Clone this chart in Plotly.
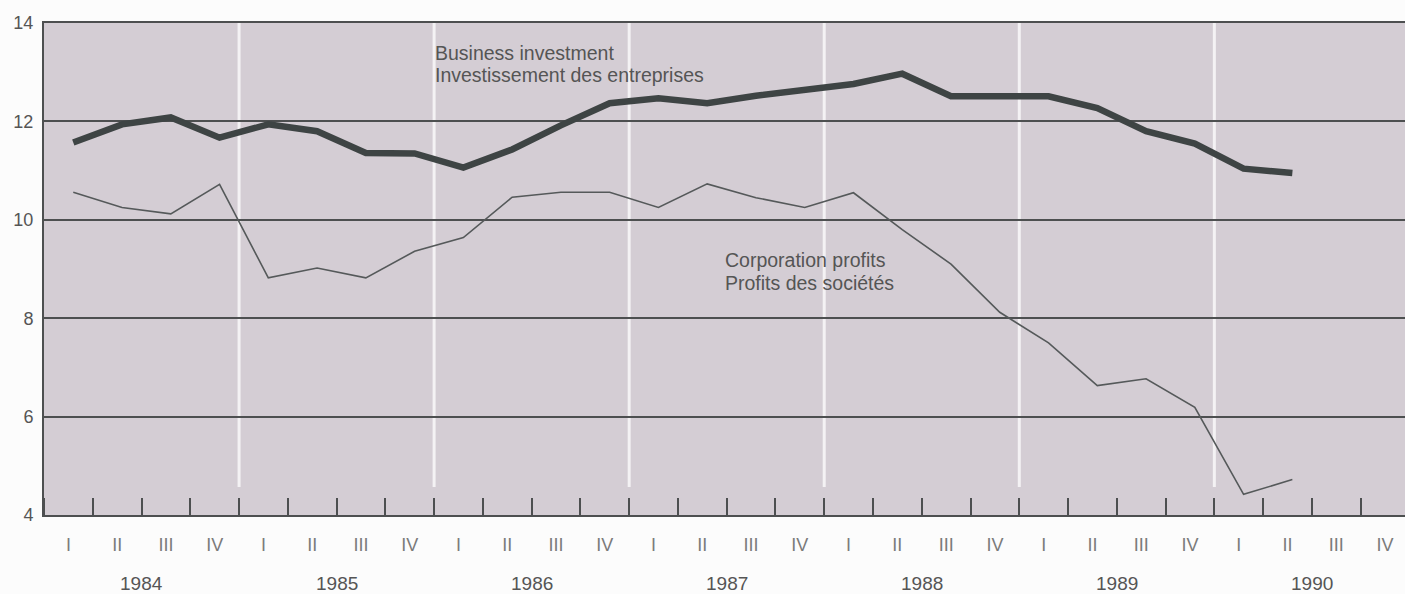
import plotly.graph_objects as go
import numpy as np

# ---- data ----
years = ["1984", "1985", "1986", "1987", "1988", "1989", "1990"]
quarters = ["I", "II", "III", "IV"]
quarter_labels = quarters * len(years)          # 28 axis slots, 1984 I .. 1990 IV

business_investment = [11.57, 11.94, 12.08, 11.67, 11.94, 11.80, 11.36, 11.35,
                       11.06, 11.43, 11.92, 12.37, 12.47, 12.37, 12.52, 12.63,
                       12.76, 12.97, 12.51, 12.51, 12.51, 12.27, 11.80, 11.55,
                       11.04, 10.95]
corporation_profits = [10.56, 10.25, 10.12, 10.72, 8.82, 9.02, 8.82, 9.36,
                       9.64, 10.46, 10.56, 10.56, 10.25, 10.73, 10.45, 10.25,
                       10.55, 9.80, 9.10, 8.12, 7.50, 6.63, 6.77, 6.19,
                       4.42, 4.72]

label_bi = ["Business investment", "Investissement des entreprises"]
label_cp = ["Corporation profits", "Profits des sociétés"]

# ---- style ----
PLOT_BG = "#d4cdd4"
PAPER_BG = "#fcfcfc"
DARK = "#4d4f50"
TEXT = "#555555"
FONT = "Liberation Sans, Arial, sans-serif"

n_slots = len(quarter_labels)
slot_pos = np.arange(n_slots)
data_shift = 0.1
x_bi = np.arange(len(business_investment)) + data_shift
x_cp = np.arange(len(corporation_profits)) + data_shift

fig = go.Figure()
fig.add_trace(go.Scatter(x=x_cp, y=corporation_profits, mode="lines",
                         line=dict(color="#55595a", width=1.6),
                         name=label_cp[0], hoverinfo="skip"))
fig.add_trace(go.Scatter(x=x_bi, y=business_investment, mode="lines",
                         line=dict(color="#3e4444", width=6.5),
                         name=label_bi[0], hoverinfo="skip"))

# white year separators
for j in range(1, len(years)):
    xb = 4 * j - 0.5
    fig.add_shape(type="line", x0=xb, x1=xb, y0=4.57, y1=14, xref="x", yref="y",
                  line=dict(color="#f4f2f4", width=3), layer="below")

# year labels
for j, yr in enumerate(years):
    fig.add_annotation(x=4 * j + 1.5, y=0, xref="x", yref="paper", yshift=-68,
                       text=yr, showarrow=False, xanchor="center", yanchor="middle",
                       font=dict(family=FONT, size=19, color=TEXT))

# series labels
for txt, yv in zip(label_bi, [13.39, 12.95]):
    fig.add_annotation(x=7.48, y=yv, xref="x", yref="y", text=txt, showarrow=False,
                       xanchor="left", yanchor="middle",
                       font=dict(family=FONT, size=19.5, color=TEXT))
for txt, yv in zip(label_cp, [9.18, 8.72]):
    fig.add_annotation(x=13.43, y=yv, xref="x", yref="y", text=txt, showarrow=False,
                       xanchor="left", yanchor="middle",
                       font=dict(family=FONT, size=19.5, color=TEXT))

fig.update_layout(
    width=1405, height=594,
    margin=dict(l=44, r=0, t=23, b=79),
    plot_bgcolor=PLOT_BG, paper_bgcolor=PAPER_BG,
    showlegend=False,
    xaxis=dict(range=[-0.5, 27.41], tickmode="array", tickvals=slot_pos,
               ticktext=quarter_labels, ticks="", showgrid=False, zeroline=False,
               showline=True, linecolor=DARK, linewidth=2, mirror=True,
               ticklabelstandoff=12,
               tickfont=dict(family=FONT, size=18, color="#7a7a7a"),
               minor=dict(tickmode="linear", tick0=0.5, dtick=1, ticks="inside",
                          ticklen=17, tickwidth=2, tickcolor=DARK, showgrid=False)),
    yaxis=dict(range=[4, 14], tickmode="array", tickvals=[4, 6, 8, 10, 12, 14],
               ticks="", showgrid=True, gridcolor=DARK, gridwidth=1.6,
               zeroline=False, showline=True, linecolor=DARK, linewidth=2,
               ticklabelstandoff=5,
               tickfont=dict(family=FONT, size=18, color=TEXT)),
)

fig.write_html("out.html",
               config={"displayModeBar": False},
               post_script="document.body.style.margin='0px';"
                           "document.body.style.overflow='hidden';"
                           "document.body.style.background='#fcfcfc';")
